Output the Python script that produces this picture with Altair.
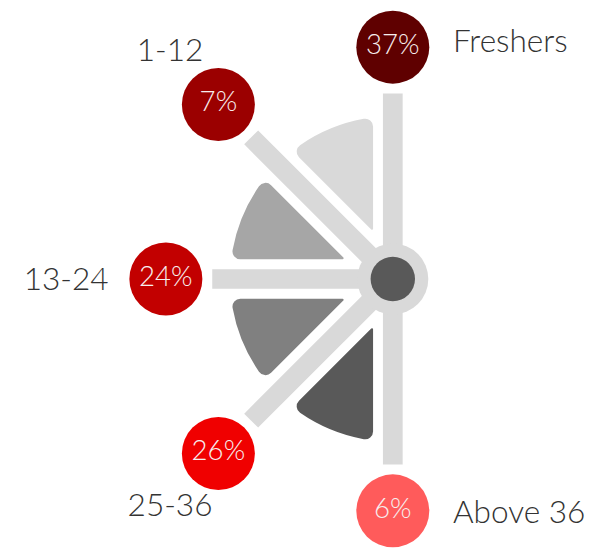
import math
import altair as alt
import pandas as pd

# ---- data ----
categories = ["Freshers", "1-12", "13-24", "25-36", "Above 36"]
shares = [37, 7, 24, 26, 6]
circle_colors = ["#5f0000", "#9b0000", "#c20000", "#f00000", "#ff5b5b"]
wedge_colors = ["#d9d9d9", "#a6a6a6", "#808080", "#595959"]

# ---- layout ----
W, H = 600, 542
HUB_X, HUB_Y = 390, 271
xs = alt.Scale(domain=[-HUB_X, W - HUB_X], nice=False, zero=False)
ys = alt.Scale(domain=[HUB_Y - H, HUB_Y], nice=False, zero=False)

SPOKE_COLOR = "#d9d9d9"
R_OUT, R_IN, GAP, CORNER = 165, 54, 20, 8
PAD = 2 * math.asin(GAP / math.sqrt(R_OUT ** 2 + R_IN ** 2))
FONT = "Lato"


def ang(i):
    return 2 * math.pi - i * math.pi / 4


def dist(i):
    if i % 2 == 1:
        return 250
    return 230 if i == 2 else 235


rows = []
for i, (c, s, col) in enumerate(zip(categories, shares, circle_colors)):
    a = ang(i)
    d = dist(i)
    cx, cy = d * math.sin(a), d * math.cos(a)
    L = d - 47
    if i == 0 or i == 4:
        lx, ly, anchor = cx + 61, cy + (5 if i == 0 else -2), "left"
    elif i == 2:
        lx, ly, anchor = cx - 58, cy - 1, "right"
    else:
        lx, ly, anchor = cx - 49, cy + (54 if i == 1 else -53), "center"
    rows.append(dict(cat=c, pct=f"{s}%", color=col, cx=cx, cy=cy,
                     x0=0.0, y0=0.0, x1=L * math.sin(a), y1=L * math.cos(a),
                     lx=lx, ly=ly, anchor=anchor))
df = pd.DataFrame(rows)

wedges = pd.DataFrame([
    dict(k=k, color=wedge_colors[k], t0=ang(k + 1), t1=ang(k), hx=0.0, hy=0.0)
    for k in range(len(wedge_colors))
])

hub = pd.DataFrame([dict(hx=0.0, hy=0.0)])


def X(f):
    return alt.X(f, type="quantitative", scale=xs, axis=None)


def Y(f):
    return alt.Y(f, type="quantitative", scale=ys, axis=None)


spokes = alt.Chart(df).mark_rule(strokeWidth=20, strokeCap="butt", color=SPOKE_COLOR).encode(
    x=X("x0"), y=Y("y0"), x2="x1", y2="y1"
)

arcs = alt.Chart(wedges).mark_arc(
    outerRadius=R_OUT, innerRadius=R_IN, cornerRadius=CORNER, padAngle=PAD
).encode(
    x=X("hx"), y=Y("hy"),
    theta=alt.Theta("t0:Q", scale=None, stack=False),
    theta2=alt.Theta2("t1:Q"),
    color=alt.Color("color:N", scale=None),
)

# Vega symbol size = (diameter)^2
hub_ring = alt.Chart(hub).mark_circle(size=72 ** 2, color=SPOKE_COLOR, opacity=1).encode(
    x=X("hx"), y=Y("hy")
)
hub_dot = alt.Chart(hub).mark_circle(size=45 ** 2, color="#595959", opacity=1).encode(
    x=X("hx"), y=Y("hy")
)

bubbles = alt.Chart(df).mark_circle(size=74 ** 2, opacity=1).encode(
    x=X("cx"), y=Y("cy"), color=alt.Color("color:N", scale=None)
)

pct_text = alt.Chart(df).mark_text(
    font=FONT, fontWeight=300, fontSize=28, color="#f7eeee", baseline="middle", align="center", dy=-1
).encode(x=X("cx"), y=Y("cy"), text="pct:N")

label_layers = []
for anchor in ["left", "right", "center"]:
    sub = df[df["anchor"] == anchor]
    label_layers.append(
        alt.Chart(sub).mark_text(
            font=FONT, fontWeight=300, fontSize=32, color="#333333", baseline="middle", align=anchor
        ).encode(x=X("lx"), y=Y("ly"), text="cat:N")
    )

chart = alt.layer(spokes, arcs, hub_ring, hub_dot, bubbles, pct_text, *label_layers).properties(
    width=W, height=H, padding=0, autosize=alt.AutoSizeParams(type="none")
).configure_view(stroke=None)

chart.save("out.html", embed_options={"renderer": "svg", "actions": False})
